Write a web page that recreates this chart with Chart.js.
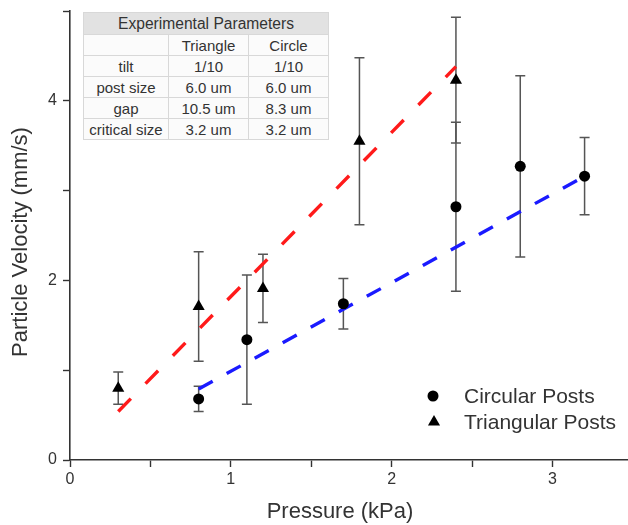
<!DOCTYPE html>
<html>
<head>
<meta charset="utf-8">
<script src="https://cdn.jsdelivr.net/npm/chart.js@4.4.1/dist/chart.umd.min.js"></script>
<style>
  html, body { margin: 0; padding: 0; background: #fff; overflow: hidden; }
  #wrap { position: relative; width: 628px; height: 525px; overflow: hidden; }
  canvas { display: block; }
  #params {
    position: absolute; left: 83px; top: 12px; width: 245px; height: 128px;
    border-collapse: collapse; font-family: "Liberation Sans", Arial, sans-serif;
    font-size: 15px; color: #333; background: #fbfbfb; table-layout: fixed;
  }
  #params td, #params th { border: 1px solid #d8d8d8; text-align: center; padding: 0; font-weight: normal; line-height: 1; }
  #params th { background: #e2e2e2; font-size: 15.6px; height: 21px; }
  #params td { height: 20px; }
</style>
</head>
<body>
<div id="wrap">
  <canvas id="chart" width="635" height="525"></canvas>
  <table id="params">
    <colgroup><col style="width:85px"><col style="width:80px"><col style="width:80px"></colgroup>
    <tr><th colspan="3">Experimental Parameters</th></tr>
    <tr><td></td><td>Triangle</td><td>Circle</td></tr>
    <tr><td>tilt</td><td>1/10</td><td>1/10</td></tr>
    <tr><td>post size</td><td>6.0 um</td><td>6.0 um</td></tr>
    <tr><td>gap</td><td>10.5 um</td><td>8.3 um</td></tr>
    <tr><td>critical size</td><td>3.2 um</td><td>3.2 um</td></tr>
  </table>
</div>
<script>
// Measured particle velocities (mm/s) against applied pressure (kPa)
const pressureCircle   = [0.8, 1.1, 1.7, 2.4, 2.8, 3.2];
const velocityCircle   = [0.68, 1.34, 1.74, 2.82, 3.27, 3.16];
const errorCircle      = [0.14, 0.72, 0.28, 0.94, 1.01, 0.43];

const pressureTriangle = [0.3, 0.8, 1.2, 1.8, 2.4];
const velocityTriangle = [0.80, 1.71, 1.91, 3.55, 4.23];
const errorTriangle    = [0.18, 0.61, 0.38, 0.93, 0.70];

// Linear fits, given by their end points
const fitTriangleX = [0.3, 2.4];
const fitTriangleY = [0.54, 4.38];
const fitCircleX   = [0.8, 3.2];
const fitCircleY   = [0.79, 3.16];

const xTickLabels = [0, 1, 2, 3];
const yTickLabels = [0, 2, 4];

const seriesNames = ['Circular Posts', 'Triangular Posts'];
const xTitle = 'Pressure (kPa)';
const yTitle = 'Particle Velocity (mm/s)';

const pts = (xs, ys) => xs.map((x, i) => ({ x, y: ys[i] }));

const FONT = '"Liberation Sans", Arial, sans-serif';
const TEXT = '#333';

// Vertical error bars with caps, drawn under the markers
const errorBars = {
  id: 'errorBars',
  beforeDatasetsDraw(chart) {
    const { ctx, scales: { x, y } } = chart;
    ctx.save();
    ctx.strokeStyle = '#555';
    ctx.lineWidth = 1.5;
    chart.data.datasets.forEach(ds => {
      if (!ds.errors) return;
      ds.data.forEach((p, i) => {
        const e = ds.errors[i];
        const px = x.getPixelForValue(p.x);
        const top = y.getPixelForValue(p.y + e);
        const bot = y.getPixelForValue(p.y - e);
        ctx.beginPath();
        ctx.moveTo(px, top); ctx.lineTo(px, bot);
        ctx.moveTo(px - 5, top); ctx.lineTo(px + 5, top);
        ctx.moveTo(px - 5, bot); ctx.lineTo(px + 5, bot);
        ctx.stroke();
      });
    });
    ctx.restore();
  }
};

// Axis titles and the legend in the lower right of the plot area
const annotations = {
  id: 'annotations',
  afterDraw(chart) {
    const { ctx } = chart;
    const ds = chart.data.datasets;
    ctx.save();
    ctx.fillStyle = TEXT;
    ctx.font = '22px ' + FONT;
    ctx.textAlign = 'center';
    ctx.textBaseline = 'middle';
    ctx.fillText(xTitle, 340, 512);
    ctx.translate(21, 242);
    ctx.rotate(-Math.PI / 2);
    ctx.fillText(yTitle, 0, 0);
    ctx.restore();

    ctx.save();
    ctx.fillStyle = '#000';
    Chart.helpers.drawPoint(ctx, { pointStyle: ds[2].pointStyle, radius: ds[2].pointRadius, rotation: 0, borderWidth: 0 }, 433, 396);
    Chart.helpers.drawPoint(ctx, { pointStyle: ds[3].pointStyle, radius: ds[3].pointRadius, rotation: 0, borderWidth: 0 }, 434, 422);
    ctx.fillStyle = TEXT;
    ctx.font = '21px ' + FONT;
    ctx.textBaseline = 'middle';
    ctx.fillText(seriesNames[0], 464, 397);
    ctx.fillText(seriesNames[1], 464, 423);
    ctx.restore();
  }
};

const noPad = s => { s.paddingTop = 0; s.paddingBottom = 0; s.paddingLeft = 0; s.paddingRight = 0; };

new Chart(document.getElementById('chart'), {
  type: 'scatter',
  data: {
    datasets: [
      {
        type: 'line', data: pts(fitTriangleX, fitTriangleY),
        borderColor: '#ff1a1a', borderWidth: 3.4, borderDash: [18, 21],
        pointRadius: 0, fill: false, order: 3
      },
      {
        type: 'line', data: pts(fitCircleX, fitCircleY),
        borderColor: '#1a1aff', borderWidth: 3.4, borderDash: [16, 16],
        pointRadius: 0, fill: false, order: 3
      },
      {
        label: seriesNames[0], data: pts(pressureCircle, velocityCircle), errors: errorCircle,
        pointStyle: 'circle', pointRadius: 5.5, backgroundColor: '#000', borderColor: '#000',
        borderWidth: 0, order: 1
      },
      {
        label: seriesNames[1], data: pts(pressureTriangle, velocityTriangle), errors: errorTriangle,
        pointStyle: 'triangle', pointRadius: 7, backgroundColor: '#000', borderColor: '#000',
        borderWidth: 0, order: 1
      }
    ]
  },
  options: {
    responsive: false,
    animation: false,
    events: [],
    layout: { padding: { top: 11, right: 0, left: 0, bottom: 0 } },
    plugins: { legend: { display: false }, tooltip: { enabled: false } },
    scales: {
      x: {
        type: 'linear', min: 0, max: 3.47,
        afterFit(s) { s.height = 65; noPad(s); },
        border: { display: true, color: '#333', width: 1.6 },
        grid: { display: true, drawOnChartArea: false, drawTicks: true, tickLength: 7, tickColor: '#333', tickWidth: 1.4 },
        ticks: {
          stepSize: 0.5, includeBounds: false, padding: 3, color: TEXT,
          font: { family: FONT, size: 16 }, maxRotation: 0, autoSkip: false,
          callback: v => xTickLabels.includes(v) ? String(v) : ''
        }
      },
      y: {
        type: 'linear', min: 0, max: 5,
        afterFit(s) { s.width = 70; noPad(s); },
        border: { display: true, color: '#333', width: 1.6 },
        grid: { display: true, drawOnChartArea: false, drawTicks: true, tickLength: 7, tickColor: '#333', tickWidth: 1.4 },
        ticks: {
          stepSize: 1, padding: 6, color: TEXT,
          font: { family: FONT, size: 16 }, autoSkip: false,
          callback: v => yTickLabels.includes(v) ? String(v) : ''
        }
      }
    }
  },
  plugins: [errorBars, annotations]
});
</script>
</body>
</html>
